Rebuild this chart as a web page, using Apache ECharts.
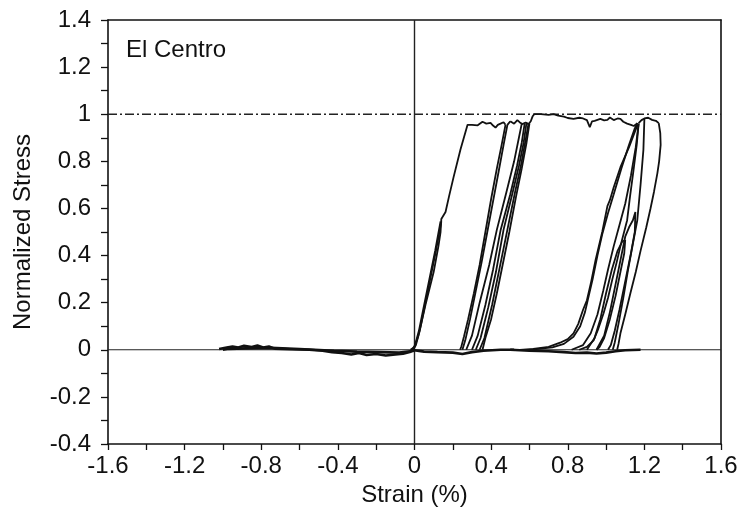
<!DOCTYPE html>
<html>
<head>
<meta charset="utf-8">
<script src="https://cdn.jsdelivr.net/npm/echarts@6/dist/echarts.min.js"></script>
<style>
html,body{margin:0;padding:0;background:#fff;}
#chart{width:742px;height:509px;}
</style>
</head>
<body>
<div id="chart"></div>
<script>
// ---- axis settings / tick labels ----
const xTicks = [-1.6, -1.2, -0.8, -0.4, 0, 0.4, 0.8, 1.2, 1.6];
const yTicks = [-0.4, -0.2, 0, 0.2, 0.4, 0.6, 0.8, 1, 1.2, 1.4];
const panelLabel = 'El Centro';
const xTitle = 'Strain (%)';
const yTitle = 'Normalized Stress';

// ---- reference lines ----
const yieldLine = [[-1.6, 1], [1.6, 1]];
const zeroStressLine = [[-1.6, 0], [1.6, 0]];
const zeroStrainLine = [[0, -0.4], [0, 1.4]];

// ---- measured hysteresis branches (strain %, normalized stress) ----
const slackLeft = [[-1.02,0.003],[-0.98,0.01],[-0.95,0.014],[-0.92,0.01],[-0.89,0.017],[-0.85,0.012],[-0.82,0.018],[-0.79,0.01],[-0.76,0.014],[-0.73,0.005],[-0.65,0.002],[-0.55,0.0],[-0.48,-0.004],[-0.43,-0.01],[-0.38,-0.014],[-0.33,-0.02],[-0.29,-0.014],[-0.25,-0.022],[-0.2,-0.018],[-0.15,-0.024],[-0.1,-0.02],[-0.06,-0.017],[-0.02,-0.008],[0.0,0.0]];
const slackLeftReturn = [[0.0,-0.004],[-0.08,-0.012],[-0.18,-0.01],[-0.3,-0.008],[-0.42,-0.004],[-0.6,0.003],[-0.75,0.008],[-0.88,0.006],[-0.97,0.004],[-1.0,0.0]];
const slackMid = [[-0.02,0.0],[0.05,-0.008],[0.12,-0.01],[0.2,-0.012],[0.25,-0.018],[0.3,-0.01],[0.36,-0.004],[0.45,0.0],[0.52,0.0]];
const slackRight = [[0.5,0.0],[0.6,-0.004],[0.7,-0.006],[0.78,-0.01],[0.84,-0.014],[0.9,-0.012],[0.95,-0.016],[1.0,-0.012],[1.05,-0.006],[1.1,-0.002],[1.18,0.0]];

const firstLoad = [[-0.02,0.0],[0.0,0.012],[0.02,0.06],[0.035,0.11],[0.06,0.2],[0.1,0.33],[0.125,0.44],[0.136,0.5],[0.14,0.555],[0.162,0.585],[0.18,0.65],[0.204,0.733],[0.24,0.85],[0.277,0.955],[0.3,0.955],[0.33,0.953],[0.355,0.968],[0.375,0.96],[0.397,0.963],[0.41,0.952],[0.423,0.943],[0.435,0.955],[0.449,0.96],[0.465,0.966],[0.475,0.955]];
const firstLoadRepeat = [[0.138,0.545],[0.11,0.42],[0.08,0.3],[0.05,0.18],[0.025,0.08],[0.005,0.02],[-0.01,0.0]];
const firstUnload = [[0.475,0.955],[0.455,0.87],[0.43,0.77],[0.4,0.64],[0.37,0.5],[0.34,0.36],[0.31,0.24],[0.28,0.13],[0.258,0.055],[0.245,0.015],[0.238,0.0]];

const reloadA = [[0.25,0.0],[0.265,0.04],[0.29,0.13],[0.32,0.25],[0.35,0.37],[0.38,0.5],[0.41,0.63],[0.44,0.76],[0.465,0.87],[0.485,0.955],[0.5,0.97]];
const reloadB = [[0.27,0.0],[0.3,0.06],[0.34,0.2],[0.39,0.36],[0.43,0.51],[0.48,0.67],[0.52,0.8],[0.545,0.9],[0.56,0.96]];
const reloadC = [[0.3,0.0],[0.33,0.06],[0.37,0.19],[0.41,0.34],[0.45,0.51],[0.5,0.66],[0.535,0.78],[0.56,0.88],[0.575,0.96]];
const reloadD = [[0.32,0.0],[0.345,0.05],[0.385,0.18],[0.425,0.33],[0.465,0.51],[0.51,0.66],[0.545,0.78],[0.57,0.88],[0.585,0.965]];
const reloadE = [[0.34,0.0],[0.365,0.05],[0.405,0.19],[0.445,0.35],[0.485,0.51],[0.525,0.67],[0.555,0.78],[0.58,0.89],[0.595,0.96]];
const unloadE = [[0.6,0.96],[0.585,0.88],[0.56,0.77],[0.53,0.65],[0.495,0.5],[0.46,0.36],[0.43,0.24],[0.4,0.13],[0.37,0.05],[0.355,0.0]];
const secondPlateau = [[0.5,0.97],[0.51,0.975],[0.52,0.96],[0.537,0.975],[0.55,0.965],[0.563,0.958],[0.58,0.965],[0.595,0.958],[0.607,0.97],[0.616,0.99],[0.625,1.0],[0.66,1.0],[0.7,0.997],[0.726,1.0],[0.75,0.994],[0.78,0.99],[0.8,0.984],[0.83,0.98],[0.86,0.985],[0.88,0.982],[0.9,0.975],[0.915,0.945],[0.927,0.97],[0.94,0.972],[0.97,0.98],[0.99,0.974],[1.007,0.976],[1.02,0.986],[1.04,0.975],[1.06,0.982],[1.075,0.98],[1.09,0.968],[1.11,0.96],[1.13,0.955],[1.145,0.95],[1.164,0.962]];
const thirdPlateau = [[1.17,0.962],[1.185,0.975],[1.2,0.982],[1.22,0.985],[1.24,0.976],[1.26,0.972],[1.275,0.962]];

const unloadRightA = [[1.164,0.955],[1.12,0.86],[1.075,0.775],[1.04,0.69],[1.02,0.635],[1.007,0.61],[0.98,0.5],[0.945,0.38],[0.92,0.28],[0.9,0.21],[0.88,0.17],[0.855,0.11],[0.83,0.07],[0.8,0.045],[0.76,0.03],[0.7,0.012],[0.62,0.004],[0.55,0.0]];
const reloadRightA = [[0.6,0.0],[0.72,0.01],[0.78,0.025],[0.83,0.055],[0.865,0.1],[0.89,0.16],[0.91,0.23],[0.93,0.3],[0.955,0.4],[0.98,0.49],[1.01,0.58],[1.04,0.66],[1.08,0.77],[1.12,0.87],[1.15,0.94],[1.164,0.962]];
const unloadRightB = [[1.17,0.96],[1.16,0.87],[1.143,0.76],[1.125,0.65],[1.11,0.55],[1.075,0.44],[1.055,0.37],[1.033,0.3],[1.01,0.22],[0.987,0.155],[0.96,0.09],[0.935,0.04],[0.9,0.012],[0.86,0.0]];
const reloadRightB = [[0.82,0.0],[0.88,0.02],[0.92,0.07],[0.955,0.15],[0.985,0.25],[1.01,0.34],[1.04,0.44],[1.07,0.53],[1.1,0.62],[1.13,0.74],[1.155,0.86],[1.17,0.96]];
const smallLoop1 = [[0.95,0.0],[0.99,0.06],[1.02,0.16],[1.05,0.28],[1.08,0.4],[1.1,0.48],[1.12,0.52],[1.14,0.55],[1.153,0.585],[1.15,0.5],[1.13,0.41],[1.1,0.29],[1.07,0.17],[1.045,0.08],[1.025,0.02],[1.01,0.0]];
const smallLoop2 = [[0.9,0.0],[0.94,0.05],[0.97,0.13],[1.0,0.24],[1.03,0.34],[1.06,0.42],[1.085,0.46],[1.1,0.465],[1.095,0.41],[1.075,0.33],[1.05,0.23],[1.02,0.13],[0.99,0.05],[0.965,0.01],[0.95,0.0]];
const unloadRightD = [[1.2,0.98],[1.195,0.85],[1.18,0.7],[1.163,0.55],[1.14,0.45],[1.115,0.34],[1.09,0.22],[1.065,0.11],[1.045,0.03],[1.035,0.0]];
const unloadRightC = [[1.275,0.962],[1.283,0.92],[1.285,0.87],[1.277,0.8],[1.268,0.75],[1.25,0.67],[1.232,0.6],[1.21,0.52],[1.18,0.42],[1.155,0.33],[1.127,0.24],[1.1,0.15],[1.075,0.07],[1.065,0.025],[1.058,0.0]];

const heavyCurves = [slackLeft, slackLeftReturn, slackMid, slackRight, firstLoadRepeat];
const curves = [
  firstLoad, firstUnload,
  reloadA, reloadB, reloadC, reloadD, reloadE, unloadE,
  secondPlateau, thirdPlateau,
  unloadRightA, reloadRightA, unloadRightB, reloadRightB,
  smallLoop1, smallLoop2, unloadRightD, unloadRightC
];

const FONT = 'Liberation Sans, Arial, Helvetica, sans-serif';
const INK = '#111';
const FS = 24;

const chart = echarts.init(document.getElementById('chart'), null, {renderer: 'canvas'});

const series = [];
series.push({type:'line', data: zeroStressLine, showSymbol:false, silent:true, lineStyle:{color:'#222', width:1.1}, z:1});
series.push({type:'line', data: zeroStrainLine, showSymbol:false, silent:true, lineStyle:{color:'#222', width:1.4}, z:1});
series.push({type:'line', data: yieldLine, showSymbol:false, silent:true, lineStyle:{color:'#222', width:1.5, type:[9,3,2,3]}, z:1});
heavyCurves.forEach(function(c){
  series.push({type:'line', data:c, showSymbol:false, silent:true,
    lineStyle:{color:INK, width:2.6}, z:3});
});
curves.forEach(function(c){
  series.push({type:'line', data:c, showSymbol:false, silent:true,
    lineStyle:{color:INK, width:1.8}, z:3});
});

const axisCommon = {
  axisLine:{show:true, onZero:false, lineStyle:{color:INK, width:1.6}},
  splitLine:{show:false}
};

chart.setOption({
  animation:false,
  backgroundColor:'#fff',
  title:{text: panelLabel, left:121, top:33, textStyle:{fontFamily:FONT, fontSize:FS, fontWeight:'normal', color:INK}},
  grid:{left:108, right:21, top:20, bottom:65, containLabel:false, outerBoundsMode:'none'},
  xAxis:[
    Object.assign({}, axisCommon, {
      type:'value', min:xTicks[0], max:xTicks[xTicks.length-1], interval:0.4, position:'bottom',
      name:xTitle, nameLocation:'middle', nameGap:35,
      nameTextStyle:{fontFamily:FONT, fontSize:FS, color:INK},
      axisTick:{show:true, length:6, lineStyle:{color:INK, width:1.3}},
      minorTick:{show:true, splitNumber:2, length:6, lineStyle:{color:INK, width:1.3}},
      axisLabel:{fontFamily:FONT, fontSize:FS, color:INK, margin:10,
        formatter:function(v){ return String(Math.round(v*10)/10); }}
    }),
    Object.assign({}, axisCommon, {
      type:'value', min:xTicks[0], max:xTicks[xTicks.length-1], interval:0.4, position:'top',
      axisTick:{show:false}, axisLabel:{show:false}
    })
  ],
  yAxis:[
    Object.assign({}, axisCommon, {
      type:'value', min:yTicks[0], max:yTicks[yTicks.length-1], interval:0.2, position:'left',
      name:yTitle, nameLocation:'middle', nameGap:73,
      nameTextStyle:{fontFamily:FONT, fontSize:FS, color:INK},
      axisTick:{show:true, length:7, lineStyle:{color:INK, width:1.3}},
      minorTick:{show:true, splitNumber:2, length:7, lineStyle:{color:INK, width:1.3}},
      axisLabel:{fontFamily:FONT, fontSize:FS, color:INK, margin:17,
        formatter:function(v){ return String(Math.round(v*10)/10); }}
    }),
    Object.assign({}, axisCommon, {
      type:'value', min:yTicks[0], max:yTicks[yTicks.length-1], interval:0.2, position:'right',
      axisTick:{show:false}, axisLabel:{show:false}
    })
  ],
  series: series
});
</script>
</body>
</html>
